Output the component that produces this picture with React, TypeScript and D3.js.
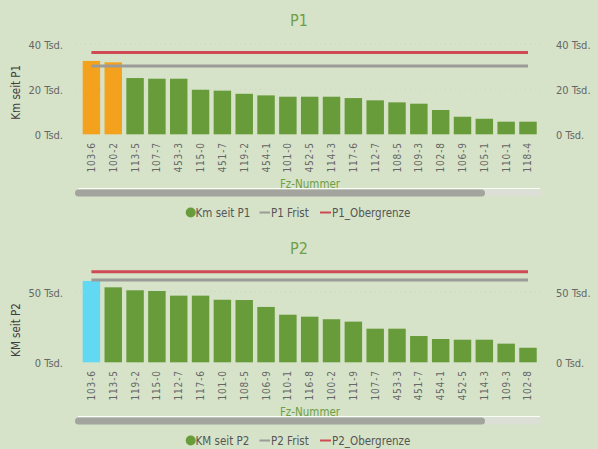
import React from "react";
import * as d3 from "d3";

const p1Labels = ["103-6","100-2","113-5","107-7","453-3","115-0","451-7","119-2","454-1","101-0","452-5","114-3","117-6","112-7","108-5","109-3","102-8","106-9","105-1","110-1","118-4"];
const p1Values = [32600,32000,25000,24700,24700,19800,19400,18000,17300,16700,16700,16700,16100,15100,14200,13600,10800,7800,6900,5600,5600];
const p1Frist = 30400;
const p1Ober = 36400;
const p1Ticks = [0, 20000, 40000];

const p2Labels = ["103-6","113-5","119-2","115-0","112-7","117-6","101-0","108-5","106-9","110-1","116-8","100-2","111-9","107-7","453-3","451-7","454-1","452-5","114-3","109-3","102-8"];
const p2Values = [57600,53100,51000,50500,47200,47200,44300,44100,39200,33700,32300,30500,28800,23800,23800,18600,16500,16000,16000,13200,10300];
const p2Frist = 58300;
const p2Ober = 64200;
const p2Ticks = [0, 50000];

const FONT = "'DejaVu Sans Condensed', 'Liberation Sans Narrow', Roboto, sans-serif";
const BG = "#d6e3c9";
const GREEN = "#689b3a";
const GREY_LINE = "#9b9b98";
const RED_LINE = "#cf4a55";

type ChartProps = {
  oy: number;
  title: string;
  yTitle: string;
  labels: string[];
  values: number[];
  frist: number;
  ober: number;
  ticks: number[];
  yTop: number;
  topValue: number;
  barColors: string[];
  legend: [string, string, string];
};

function Chart(p: ChartProps) {
  const base = 134.3;
  const x = d3.scaleBand<string>().domain(p.labels).range([80.5, 538.9]).paddingInner(0.2).paddingOuter(0.1);
  const y = d3.scaleLinear().domain([0, p.topValue]).range([base, p.yTop]);
  const fmt = (v: number) => `${v / 1000} Tsd.`;
  const bw = x.bandwidth();
  const c0 = (x(p.labels[0]) ?? 0) + bw / 2;
  const c1 = (x(p.labels[p.labels.length - 1]) ?? 0) + bw / 2;
  return (
    <g transform={`translate(0,${p.oy})`} fontFamily={FONT}>
      <text x={299} y={20} textAnchor="middle" dominantBaseline="central" fontSize={16} fill="#6f9f45">{p.title}</text>
      <text transform={`translate(16,${(base + p.yTop) / 2 + 3}) rotate(-90)`} textAnchor="middle" dominantBaseline="central" fontSize={11.5} fill="#3f3f3f">{p.yTitle}</text>
      {p.ticks.map((t) => (
        <g key={t}>
          {t !== 0 && (
            <line x1={75} x2={545} y1={y(t)} y2={y(t)} stroke="#cbd4c0" strokeWidth={1} strokeDasharray="1,4" />
          )}
          <text x={63} y={y(t) + 1.5} textAnchor="end" dominantBaseline="central" fontSize={11} fill="#666">{fmt(t)}</text>
          <text x={556} y={y(t) + 1.5} textAnchor="start" dominantBaseline="central" fontSize={11} fill="#666">{fmt(t)}</text>
        </g>
      ))}
      {p.labels.map((l, i) => (
        <rect key={l} x={x(l)} y={y(p.values[i])} width={bw} height={base - y(p.values[i])} fill={p.barColors[i]} />
      ))}
      <line x1={c0} x2={c1} y1={y(p.ober)} y2={y(p.ober)} stroke={RED_LINE} strokeWidth={3} />
      <line x1={c0} x2={c1} y1={y(p.frist)} y2={y(p.frist)} stroke={GREY_LINE} strokeWidth={3} />
      {p.labels.map((l) => (
        <text key={l} transform={`translate(${(x(l) ?? 0) + bw / 2},${base + 8}) rotate(-90)`} textAnchor="end" dominantBaseline="central" fontSize={10} fill="#666" letterSpacing={0.8}>{l}</text>
      ))}
      <text x={310} y={183.5} textAnchor="middle" dominantBaseline="central" fontSize={11.5} fill="#6f9f45">Fz-Nummer</text>
      <line x1={78} x2={540} y1={188.6} y2={188.6} stroke="#ffffff" strokeWidth={1} />
      <rect x={485} y={189.5} width={57} height={7} rx={3.5} fill="#dcdfd5" />
      <rect x={75} y={189.5} width={410} height={7} rx={3.5} fill="#a3a49e" />
      <g fontSize={11.5} fill="#555">
        <circle cx={190.7} cy={212.5} r={5} fill={GREEN} />
        <text x={195.5} y={212.5} dominantBaseline="central">{p.legend[0]}</text>
        <line x1={259.5} x2={270} y1={212.5} y2={212.5} stroke={GREY_LINE} strokeWidth={2} />
        <text x={271} y={212.5} dominantBaseline="central">{p.legend[1]}</text>
        <line x1={320} x2={331} y1={212.5} y2={212.5} stroke={RED_LINE} strokeWidth={2} />
        <text x={332} y={212.5} dominantBaseline="central">{p.legend[2]}</text>
      </g>
    </g>
  );
}

export default function App() {
  const p1Colors = p1Values.map((v) => (v > p1Frist ? "#f4a11d" : GREEN));
  const p2Colors = p2Values.map((_, i) => (i === 0 ? "#62d8f3" : GREEN));
  return (
    <svg width={598} height={449} style={{ position: "absolute", left: 0, top: 0 }}>
      <rect x={0} y={0} width={598} height={449} fill={BG} />
      <Chart oy={0} title="P1" yTitle="Km seit P1" labels={p1Labels} values={p1Values} frist={p1Frist} ober={p1Ober}
        ticks={p1Ticks} yTop={44.3} topValue={40000} barColors={p1Colors} legend={["Km seit P1", "P1 Frist", "P1_Obergrenze"]} />
      <Chart oy={228} title="P2" yTitle="KM seit P2" labels={p2Labels} values={p2Values} frist={p2Frist} ober={p2Ober}
        ticks={p2Ticks} yTop={63.7} topValue={50000} barColors={p2Colors} legend={["KM seit P2", "P2 Frist", "P2_Obergrenze"]} />
    </svg>
  );
}
